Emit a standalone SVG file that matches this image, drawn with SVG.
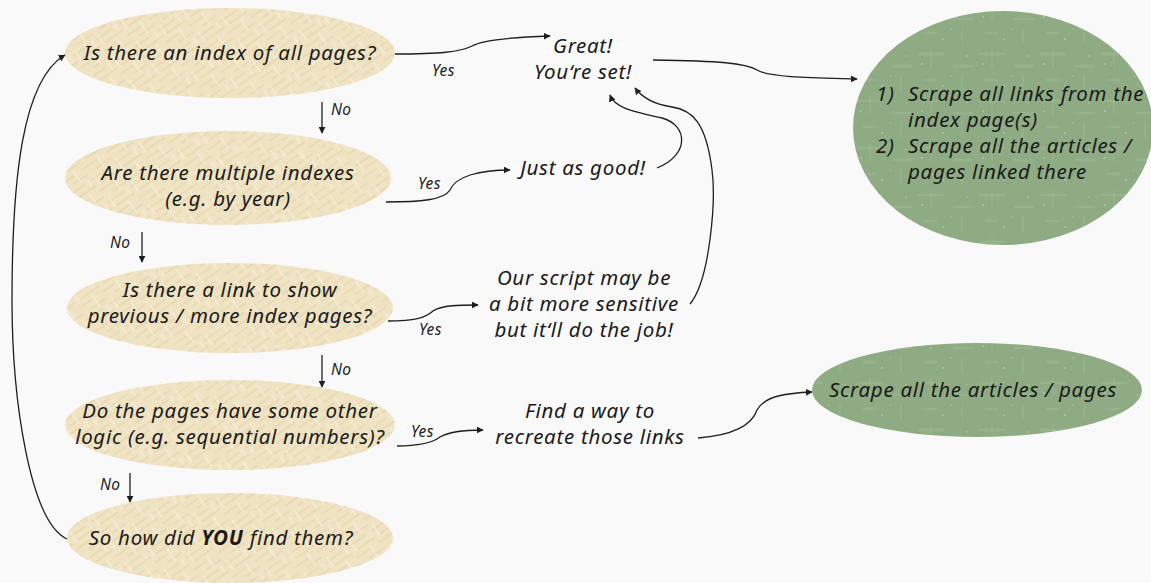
<svg xmlns="http://www.w3.org/2000/svg" width="1151" height="583" viewBox="0 0 1151 583">
  <style>
    .t { font-family: "Noto Sans", "Open Sans", sans-serif; font-style: italic; font-size: 20.5px; letter-spacing: 0.7px; fill: #1a1a1a; text-anchor: middle; }
    .tl { font-family: "Noto Sans", "Open Sans", sans-serif; font-style: italic; font-size: 20.5px; letter-spacing: 0.7px; fill: #1a1a1a; }
    .lbl { font-family: "Noto Sans", "Open Sans", sans-serif; font-style: italic; font-size: 15.5px; letter-spacing: 0.4px; fill: #222; }
    .q { fill: #efe3c3; }
    .qt { fill: url(#straw); }
    .g { fill: #8fab84; }
    .gt { fill: url(#speck); }
    .c { fill: none; stroke: #1e1e1e; stroke-width: 1.3; marker-end: url(#ah); }
  </style>
  <defs>
    <marker id="ah" viewBox="0 0 10 10" refX="9" refY="5" markerWidth="7" markerHeight="7" markerUnits="userSpaceOnUse" orient="auto">
      <path d="M0,0 L10,5 L0,10 z" fill="#1e1e1e"/>
    </marker>
    <!-- woven straw strokes for the question ovals -->
    <pattern id="straw" width="28" height="28" patternUnits="userSpaceOnUse" patternTransform="rotate(-35)">
      <rect width="28" height="28" fill="none"/>
      <path d="M0,4 H20 M6,11 H28 M0,18 H16 M10,25 H28" stroke="#e0cda0" stroke-width="2" opacity="0.45"/>
      <path d="M4,0 V12 M18,14 V28 M24,2 V10" stroke="#f8f0dd" stroke-width="2" opacity="0.55"/>
    </pattern>
    <!-- pale speckle for the green outcome ovals -->
    <pattern id="speck" width="61" height="47" patternUnits="userSpaceOnUse">
      <rect width="61" height="47" fill="none"/>
      <path d="M3,7 H29 M38,19 H58 M9,33 H22" stroke="#a9c09e" stroke-width="2.5" opacity="0.35"/>
      <path d="M16,2 V21 M47,28 V44" stroke="#a4bb99" stroke-width="2" opacity="0.3"/>
      <circle cx="7" cy="17" r="0.9" fill="#bccfb2" opacity="0.8"/>
      <circle cx="28" cy="39" r="0.9" fill="#bccfb2" opacity="0.8"/>
      <circle cx="52" cy="9" r="0.8" fill="#bccfb2" opacity="0.8"/>
      <circle cx="36" cy="29" r="0.7" fill="#bccfb2" opacity="0.8"/>
    </pattern>
  </defs>

  <rect width="1151" height="583" fill="#f9f9f9"/>

  <!-- question ovals -->
  <g id="q-index">
    <ellipse class="q" cx="230" cy="53" rx="165" ry="45"/>
    <ellipse class="qt" cx="230" cy="53" rx="165" ry="45"/>
    <text class="t" x="230" y="60">Is there an index of all pages?</text>
  </g>
  <g id="q-multiple">
    <ellipse class="q" cx="228" cy="178" rx="163" ry="47"/>
    <ellipse class="qt" cx="228" cy="178" rx="163" ry="47"/>
    <text class="t" x="228" y="180">Are there multiple indexes</text>
    <text class="t" x="228" y="206">(e.g. by year)</text>
  </g>
  <g id="q-link">
    <ellipse class="q" cx="230" cy="308" rx="163" ry="45"/>
    <ellipse class="qt" cx="230" cy="308" rx="163" ry="45"/>
    <text class="t" x="230" y="297">Is there a link to show</text>
    <text class="t" x="230" y="323">previous / more index pages?</text>
  </g>
  <g id="q-logic">
    <ellipse class="q" cx="230" cy="425" rx="165" ry="45"/>
    <ellipse class="qt" cx="230" cy="425" rx="165" ry="45"/>
    <text class="t" x="230" y="418">Do the pages have some other</text>
    <text class="t" x="230" y="444">logic (e.g. sequential numbers)?</text>
  </g>
  <g id="q-you">
    <ellipse class="q" cx="230" cy="538" rx="163" ry="45"/>
    <ellipse class="qt" cx="230" cy="538" rx="163" ry="45"/>
    <text class="t" x="221" y="545">So how did <tspan font-weight="bold">YOU</tspan> find them?</text>
  </g>

  <!-- plain text nodes -->
  <g id="n-great">
    <text class="t" x="583" y="53">Great!</text>
    <text class="t" x="583" y="79">You‘re set!</text>
  </g>
  <g id="n-good">
    <text class="t" x="583" y="175">Just as good!</text>
  </g>
  <g id="n-sensitive">
    <text class="t" x="584" y="285">Our script may be</text>
    <text class="t" x="584" y="311">a bit more sensitive</text>
    <text class="t" x="584" y="337">but it‘ll do the job!</text>
  </g>
  <g id="n-recreate">
    <text class="t" x="590" y="418">Find a way to</text>
    <text class="t" x="590" y="444">recreate those links</text>
  </g>

  <!-- outcome ovals -->
  <g id="o-index">
    <ellipse class="g" cx="1003" cy="128" rx="150" ry="117"/>
    <ellipse class="gt" cx="1003" cy="128" rx="150" ry="117"/>
    <text class="tl" x="876" y="101">1)</text>
    <text class="tl" x="908" y="101">Scrape all links from the</text>
    <text class="tl" x="908" y="127">index page(s)</text>
    <text class="tl" x="876" y="153">2)</text>
    <text class="tl" x="908" y="153">Scrape all the articles /</text>
    <text class="tl" x="908" y="179">pages linked there</text>
  </g>
  <g id="o-articles">
    <ellipse class="g" cx="977" cy="390" rx="165" ry="47"/>
    <ellipse class="gt" cx="977" cy="390" rx="165" ry="47"/>
    <text class="t" x="973" y="397">Scrape all the articles / pages</text>
  </g>

  <!-- connectors -->
  <g id="connectors">
    <path class="c" d="M395,54 C440,54 460,52 472,46 C482,40 520,37 550,36"/>
    <path class="c" d="M653,60 C720,61 745,63 757,70 C770,78 820,78 857,79"/>
    <path class="c" d="M657,168 C690,155 688,125 662,118 C632,111 615,108 610,95"/>
    <path class="c" d="M690,304 C710,280 716,200 712,170 C706,122 692,110 672,107 C652,104 641,96 635,88"/>
    <path class="c" d="M386,202 C420,202 444,200 450,190 C456,176 480,170 510,170"/>
    <path class="c" d="M388,321 C415,321 425,318 433,311 C442,305 460,305 478,305"/>
    <path class="c" d="M397,446 C420,446 432,443 440,437 C450,431 465,430 483,430"/>
    <path class="c" d="M698,438 C735,435 752,425 757,410 C765,395 790,393 812,392"/>
    <path class="c" d="M322,102 V133"/>
    <path class="c" d="M142,232 V262"/>
    <path class="c" d="M322,355 V387"/>
    <path class="c" d="M130,473 V502"/>
    <path class="c" d="M67,539 C30,522 12,400 12,300 C12,180 22,80 65,55"/>
    <text class="lbl" x="432" y="76">Yes</text>
    <text class="lbl" x="331" y="115">No</text>
    <text class="lbl" x="418" y="189">Yes</text>
    <text class="lbl" x="110" y="248">No</text>
    <text class="lbl" x="419" y="335">Yes</text>
    <text class="lbl" x="331" y="375">No</text>
    <text class="lbl" x="411" y="437">Yes</text>
    <text class="lbl" x="100" y="490">No</text>
  </g>
</svg>
